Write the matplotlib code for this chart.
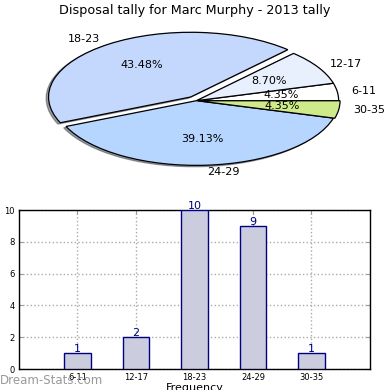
import matplotlib
matplotlib.use("Agg")
import matplotlib.pyplot as plt

categories = ["6-11", "12-17", "18-23", "24-29", "30-35"]
counts = [1, 2, 10, 9, 1]
pie_colors = ["#ffffff", "#e8f0fe", "#c4d8fe", "#b6d5ff", "#cfea8a"]
explode = [0.0, 0.0, 0.07, 0.0, 0.01]

title = "Disposal tally for Marc Murphy - 2013 tally"
xlabel = "Frequency"
ylabel = "Disposal Tally"
watermark = "Dream-Stats.com"

fig = plt.figure(figsize=(3.9, 3.9), dpi=100)

# Pie
axp = fig.add_axes([0.048, 0.5345, 0.9115, 0.4147])
wedges, texts, autotexts = axp.pie(
    counts, labels=categories, colors=pie_colors, explode=explode,
    autopct="%.2f%%", pctdistance=0.6, labeldistance=1.1,
    shadow={"ox": -0.012, "oy": -0.015},
    startangle=0, wedgeprops=dict(edgecolor="black", linewidth=0.9),
    textprops=dict(fontsize=8))
axp.set_aspect("auto")
axp.set_xlim(-1.25, 1.25)
axp.set_ylim(-1.25, 1.25)
fig.text(0.5, 0.974, title, ha="center", va="center", fontsize=9.2)

# Bars
ax = fig.add_axes([0.0487, 0.0538, 0.9, 0.4077])
pos = list(range(1, len(categories) + 1))
ax.bar(pos, counts, width=0.45, color="#ccccdf", edgecolor="#000080", linewidth=1, zorder=3)
for p, v in zip(pos, counts):
    ax.text(p, v + 0.05, str(v), ha="center", va="baseline", color="#000080", fontsize=8, zorder=4)
ax.set_xlim(0, 6)
ax.set_ylim(0, 10)
ax.set_xticks(pos)
ax.set_xticklabels(categories)
ax.set_yticks(range(0, 11, 2))
ax.tick_params(axis="both", labelsize=6, direction="in", length=3, color="#999999",
               top=True, right=True, pad=3)
ax.grid(True, linestyle=":", color="#aaaaaa", linewidth=1)
for s in ax.spines.values():
    s.set_linewidth(1)
ax.set_xlabel(xlabel, fontsize=8)
ax.xaxis.set_label_coords(0.5, -0.085)
ax.xaxis.label.set_va("top")
ax.set_ylabel(ylabel, fontsize=8)
ax.yaxis.set_label_coords(-0.068, 0.5)

fig.text(0.0, 0.025, watermark, ha="left", va="center", fontsize=8.5, color="#999999")

fig.savefig("out.png", dpi=100)
